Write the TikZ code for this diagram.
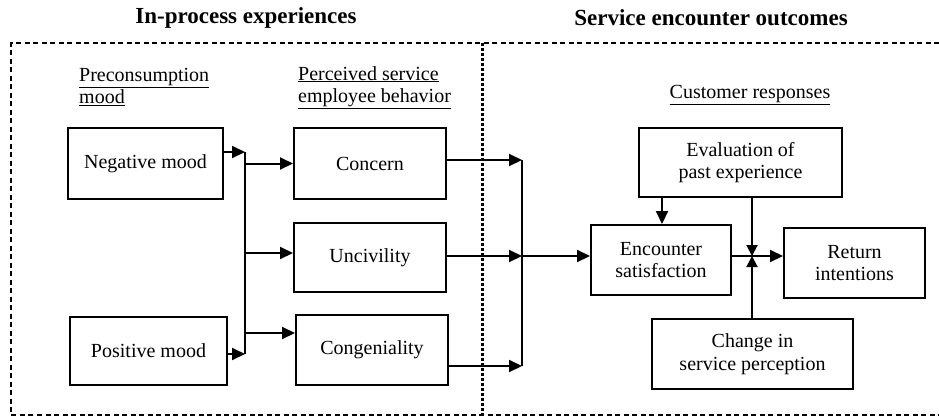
\documentclass[tikz,border=0pt]{standalone}
\usepackage{fontspec}
\setmainfont{Liberation Serif}
\usetikzlibrary{arrows.meta}
\tikzset{
  box/.style={draw, line width=2pt, align=center, inner sep=0pt,
    font=\fontsize{20}{22.5}\selectfont},
  lbl/.style={align=left, inner sep=0pt, font=\fontsize{20}{22.5}\selectfont},
  ttl/.style={inner sep=0pt, font=\fontsize{23}{26}\selectfont\bfseries},
  conn/.style={line width=2pt},
  arr/.style={line width=2pt, -{Triangle[length=13pt,width=12pt]}},
  sarr/.style={line width=2pt, -{Triangle[length=11pt,width=11pt]}},
  frame/.style={line width=1.6pt, dash pattern=on 5pt off 3.5pt},
  divider/.style={line width=3pt, dash pattern=on 3pt off 2pt},
}
\begin{document}
\begin{tikzpicture}[x=1pt,y=-1pt]
\useasboundingbox (0,0) rectangle (939,416);

% titles
\node[ttl] (t1) at (246,18) {In-process experiences};
\node[ttl] (t2) at (711,18) {Service encounter outcomes};

% frame
\coordinate (fa) at (11,43);
\coordinate (fb) at (939,43);
\coordinate (fc) at (939,415);
\coordinate (fd) at (11,415);
\draw[frame] (fb) -- (fa) -- (fd) -- (fc);
\coordinate (da) at (482,43);
\coordinate (db) at (482,415);
\draw[divider] (da) -- (db);

% labels
\node[lbl, anchor=north west] (l1) at (79,68) {\underline{Preconsumption}\\\underline{mood}};
\node[lbl, anchor=north west] (l2) at (298,66) {\underline{Perceived service}\\\underline{employee behavior}};
\node[lbl] (l3) at (750,95) {\underline{Customer responses}};

% boxes
\node[box, minimum width=155pt, minimum height=71pt] (neg) at (145.5,163.5) {Negative mood};
\node[box, minimum width=157pt, minimum height=68pt] (pos) at (148.5,351) {Positive mood};
\node[box, minimum width=152pt, minimum height=71pt] (concern) at (370,163.5) {Concern};
\node[box, minimum width=152pt, minimum height=69pt] (unciv) at (370,257.5) {Uncivility};
\node[box, minimum width=152pt, minimum height=70pt] (congen) at (372,350) {Congeniality};
\node[box, minimum width=140pt, minimum height=70pt] (enc) at (661,260) {Encounter\\satisfaction};
\node[box, minimum width=203pt, minimum height=69pt] (eval) at (740.5,162.5) {Evaluation of\\past experience};
\node[box, minimum width=201pt, minimum height=70pt] (change) at (752.5,354) {Change in\\service perception};
\node[box, minimum width=141pt, minimum height=70pt] (ret) at (854.5,263) {Return\\intentions};

% left junction
\coordinate (jl1) at (245,152);
\coordinate (jl2) at (245,354);
\coordinate (ju) at (245,253);
\coordinate (jc) at (245,333);
\draw[arr] (neg.east |- jl1) -- (jl1);
\draw[arr] (pos.east |- jl2) -- (jl2);
\draw[conn] (jl1) -- (jl2);
\draw[arr] (jl1 |- concern.west) -- (concern.west);
\draw[arr] (ju) -- (ju -| unciv.west);
\draw[arr] (jc) -- (jc -| congen.west);

% right junction
\coordinate (jr1) at (522,160);
\coordinate (jr2) at (522,256);
\coordinate (jr3) at (522,366);
\draw[arr] (concern.east |- jr1) -- (jr1);
\draw[arr] (unciv.east |- jr2) -- (jr2);
\draw[arr] (congen.east |- jr3) -- (jr3);
\draw[conn] (jr1) -- (jr3);
\draw[arr] (jr2) -- (jr2 -| enc.west);

% customer responses
\coordinate (ea) at (662,0);
\draw[arr] (eval.south -| ea) -- (enc.north -| ea);
\coordinate (jx) at (752,256);
\draw[arr] (jx -| enc.east) -- (jx -| ret.west);
\draw[sarr] (eval.south -| jx) -- (jx);
\draw[sarr] (change.north -| jx) -- (jx);
\end{tikzpicture}
\end{document}
